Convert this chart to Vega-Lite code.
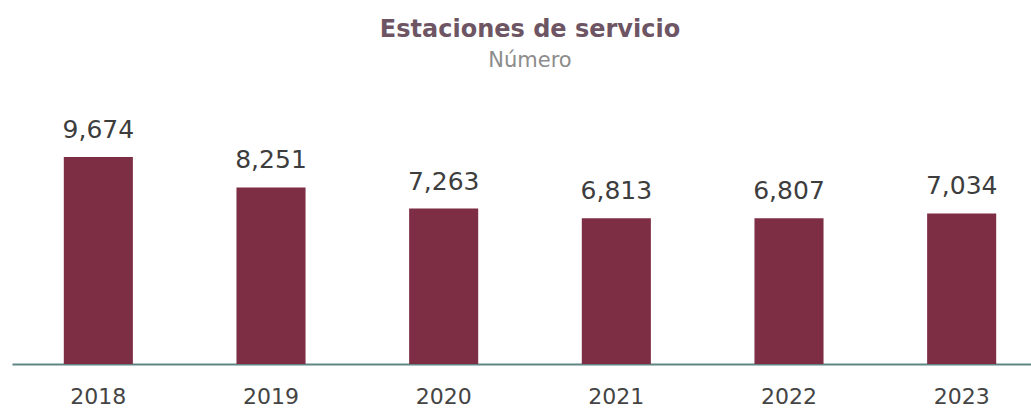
{
  "$schema": "https://vega.github.io/schema/vega-lite/v6.json",
  "autosize": {"type": "none"},
  "width": 1036,
  "height": 214,
  "padding": {"left": 12, "top": 150, "right": 0, "bottom": 45},
  "background": "white",
  "title": {
    "text": "Estaciones de servicio",
    "subtitle": "Número",
    "anchor": "middle",
    "offset": 47,
    "font": "DejaVu Sans",
    "fontSize": 24,
    "fontWeight": "bold",
    "color": "#6e5563",
    "subtitleFont": "DejaVu Sans",
    "subtitleFontSize": 21,
    "subtitleFontWeight": "normal",
    "subtitleColor": "#8c8c8c",
    "subtitlePadding": 8
  },
  "data": {
    "values": [
      {"year": "2018", "value": 9674},
      {"year": "2019", "value": 8251},
      {"year": "2020", "value": 7263},
      {"year": "2021", "value": 6813},
      {"year": "2022", "value": 6807},
      {"year": "2023", "value": 7034}
    ]
  },
  "config": {"view": {"stroke": null}},
  "encoding": {
    "x": {
      "field": "year", "type": "ordinal",
      "scale": {"paddingInner": 0.6, "paddingOuter": 0.3},
      "axis": {
        "title": null, "labelAngle": 0, "ticks": false,
        "domainColor": "#5e8584", "domainWidth": 2,
        "labelFont": "DejaVu Sans", "labelFontSize": 22, "labelColor": "#444444",
        "labelPadding": 22
      }
    },
    "y": {
      "field": "value", "type": "quantitative",
      "scale": {"domain": [0, 10000]},
      "axis": null
    }
  },
  "layer": [
    {"mark": {"type": "bar", "color": "#7d2d44"}},
    {
      "mark": {"type": "text", "baseline": "alphabetic", "dy": -19, "font": "DejaVu Sans", "fontSize": 25, "fontWeight": "normal", "color": "#3d3d3d"},
      "encoding": {"text": {"field": "value", "type": "quantitative", "format": ","}}
    }
  ]
}
